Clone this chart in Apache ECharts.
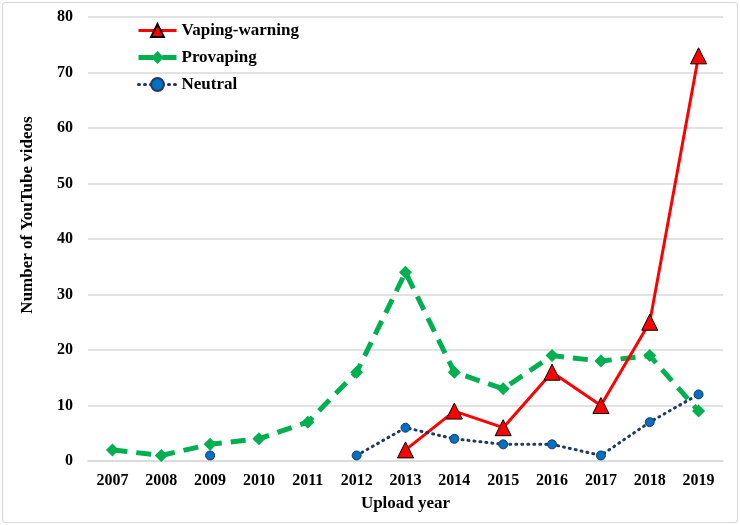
<!DOCTYPE html>
<html>
<head>
<meta charset="utf-8">
<script src="https://cdn.jsdelivr.net/npm/echarts@6/dist/echarts.min.js"></script>
<style>html,body{margin:0;padding:0;background:#fff}#c{width:740px;height:525px}</style>
</head>
<body>
<div id="c"></div>
<script>
const years = ['2007','2008','2009','2010','2011','2012','2013','2014','2015','2016','2017','2018','2019'];
const vapingWarning = [null,null,null,null,null,null,2,9,6,16,10,25,73];
const provaping = [2,1,3,4,7,16,34,16,13,19,18,19,9];
const neutral = [null,null,1,null,null,1,6,4,3,3,1,7,12];
const yTicks = {min:0, max:80, interval:10};

const FONT = '"Liberation Serif","Times New Roman",serif';
const redLine = {color:'#ff0000',width:3};
const greenLine = {color:'#00b050',width:5,type:[15,9]};
const navyLine = {color:'#1f3864',width:3,type:[1,5],cap:'round'};
const chart = echarts.init(document.getElementById('c'), null, {renderer:'canvas'});
chart.setOption({
  animation:false,
  backgroundColor:'#fff',
  graphic:[{type:'rect',shape:{x:2.5,y:2.5,width:735,height:520,r:3},style:{fill:'none',stroke:'#d9d9d9',lineWidth:1.2},z:-1}],
  grid:{left:88,right:17,top:17,bottom:64},
  legend:{
    orient:'vertical',left:131,top:17,itemWidth:38,itemHeight:16,itemGap:10,
    textStyle:{fontFamily:FONT,fontWeight:'bold',fontSize:17,color:'#000'},
    data:[
      {name:'Vaping-warning',lineStyle:redLine},
      {name:'Provaping',lineStyle:greenLine},
      {name:'Neutral',lineStyle:navyLine}
    ]
  },
  xAxis:{
    type:'category',data:years,boundaryGap:true,
    name:'Upload year',nameLocation:'middle',nameGap:34,
    nameTextStyle:{fontFamily:FONT,fontWeight:'bold',fontSize:17,color:'#000'},
    axisLine:{show:true,lineStyle:{color:'#d9d9d9',width:1.5}},
    axisTick:{show:false},
    axisLabel:{fontFamily:FONT,fontWeight:'bold',fontSize:16,color:'#000',margin:12}
  },
  yAxis:{
    type:'value',min:yTicks.min,max:yTicks.max,interval:yTicks.interval,
    name:'Number of YouTube videos',nameLocation:'middle',nameGap:52,
    nameTextStyle:{fontFamily:FONT,fontWeight:'bold',fontSize:17,color:'#000',padding:[0,0,0,48]},
    axisLine:{show:false},axisTick:{show:false},
    splitLine:{lineStyle:{color:'#d9d9d9',width:1.5}},
    axisLabel:{fontFamily:FONT,fontWeight:'bold',fontSize:16,color:'#000',margin:15}
  },
  series:[
    {name:'Vaping-warning',type:'line',data:vapingWarning,smooth:false,
     symbol:'triangle',symbolSize:16,
     lineStyle:redLine,
     itemStyle:{color:'#ff0000',borderColor:'#000',borderWidth:1},z:3},
    {name:'Provaping',type:'line',data:provaping,smooth:false,
     symbol:'diamond',symbolSize:13,
     lineStyle:greenLine,
     itemStyle:{color:'#00b050',borderColor:'#00b050',borderWidth:0},z:2},
    {name:'Neutral',type:'line',data:neutral,smooth:false,connectNulls:false,
     symbol:'circle',symbolSize:9,
     lineStyle:navyLine,
     itemStyle:{color:'#0070c0',borderColor:'#1f3864',borderWidth:1},z:4}
  ]
});
</script>
</body>
</html>
